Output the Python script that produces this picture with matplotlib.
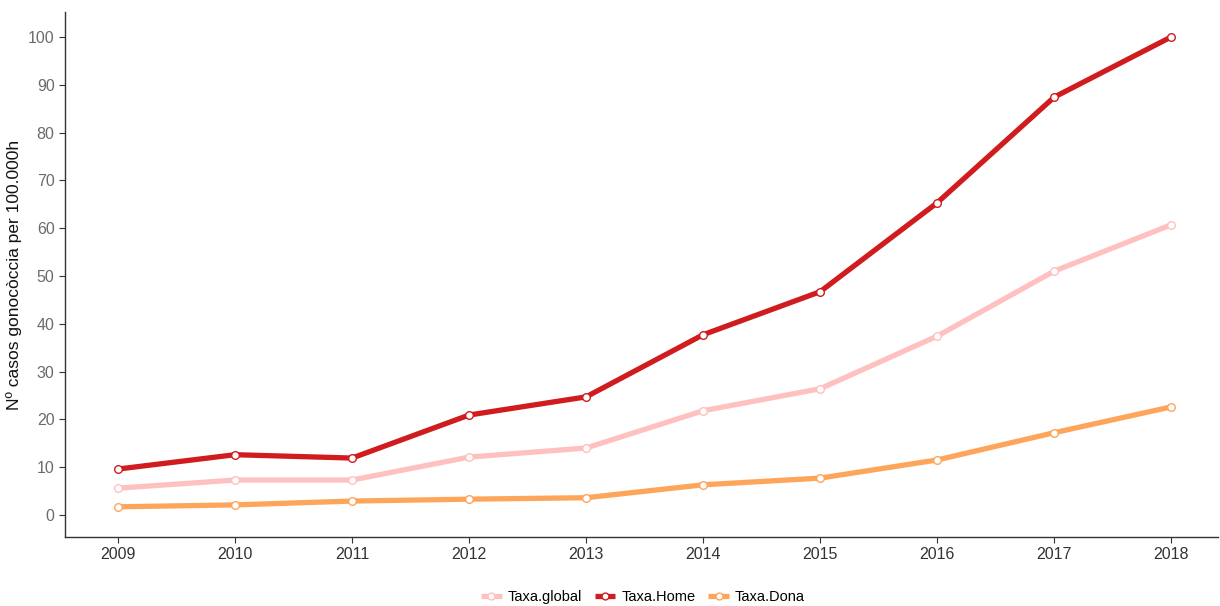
import matplotlib.pyplot as plt

plt.rcParams['font.family'] = ['Liberation Sans', 'DejaVu Sans']

# Data
years = [2009, 2010, 2011, 2012, 2013, 2014, 2015, 2016, 2017, 2018]
taxa_global = [5.6, 7.3, 7.3, 12.1, 14.0, 21.8, 26.4, 37.4, 51.0, 60.7]
taxa_home = [9.6, 12.6, 11.9, 20.9, 24.7, 37.7, 46.7, 65.3, 87.4, 100.0]
taxa_dona = [1.7, 2.1, 2.9, 3.3, 3.6, 6.3, 7.7, 11.5, 17.2, 22.6]

series = [("Taxa.global", taxa_global, "#ffc0c0"),
          ("Taxa.Home", taxa_home, "#d01c1f"),
          ("Taxa.Dona", taxa_dona, "#fea55c")]

fig = plt.figure(figsize=(12.2, 6.06), dpi=100)
ax = fig.add_axes([0.0533, 0.114, 0.945, 0.866])

for name, vals, col in series:
    ax.plot(years, vals, color=col, lw=3.8, marker="o", markersize=5.5,
            markerfacecolor="white", markeredgecolor=col, markeredgewidth=1.0,
            label=name, solid_capstyle="butt")

ax.set_xlim(2008.547, 2018.40)
ax.set_ylim(-4.6, 105.2)
ax.set_xticks(years)
ax.set_yticks(range(0, 101, 10))
ax.tick_params(axis="both", labelsize=11.5, length=4, color="#333333")
ax.tick_params(axis="y", labelcolor="#6b6b6b")
ax.tick_params(axis="x", labelcolor="#333333")
for s in ["top", "right"]:
    ax.spines[s].set_visible(False)
for s in ["left", "bottom"]:
    ax.spines[s].set_color("#333333")
    ax.spines[s].set_linewidth(1.0)

ax.set_ylabel("Nº casos gonocòccia per 100.000h", fontsize=12.5, color="#111111")

fig.legend(loc="center", bbox_to_anchor=(0.527, 0.015), ncol=3, frameon=False,
           fontsize=10.5, handlelength=1.4, columnspacing=0.9, handletextpad=0.4,
           markerscale=0.9)

fig.savefig("out.png", dpi=100)
